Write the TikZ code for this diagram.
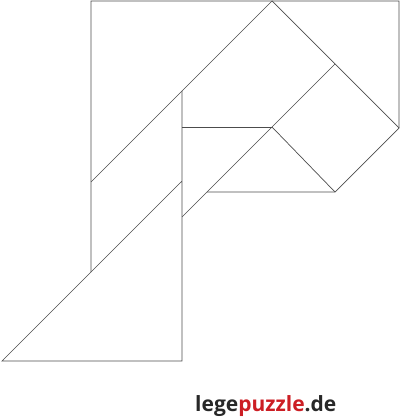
\documentclass[tikz,border=0pt]{standalone}
\usepackage{fontspec}
\setmainfont{Open Sans}
\definecolor{lpred}{RGB}{204,30,36}
\definecolor{lpdark}{RGB}{40,40,40}
\begin{document}
\begin{tikzpicture}[x=1pt,y=-1pt,
  edge/.style={draw=black!70,line width=0.7pt,line join=miter},
  logo/.style={inner sep=0pt,anchor=base west,font=\bfseries\fontsize{21}{25}\selectfont}]
\useasboundingbox (0,0) rectangle (400,419);
\coordinate (P1) at (91,1);
\coordinate (P2) at (272,1);
\coordinate (P3) at (399,1);
\coordinate (P4) at (399,128);
\coordinate (P5) at (335,64);
\coordinate (P6) at (272,127);
\coordinate (P7) at (335,192);
\coordinate (P8) at (207,192);
\coordinate (P9) at (182,217);
\coordinate (P10) at (182,127);
\coordinate (P11) at (182,91);
\coordinate (P12) at (91,182);
\coordinate (P13) at (182,181);
\coordinate (P14) at (91,272);
\coordinate (P15) at (2,361);
\coordinate (P16) at (182,361);
\draw[edge] (P14) -- (P1) -- (P3) -- (P4) -- (P7) -- (P8);
\draw[edge] (P12) -- (P2) -- (P4);
\draw[edge] (P5) -- (P9);
\draw[edge] (P6) -- (P7);
\draw[edge] (P10) -- (P6);
\draw[edge] (P11) -- (P16) -- (P15) -- (P13);
\node[logo] (L) at (195,411) {\textcolor{lpdark}{lege}\textcolor{lpred}{puzzle}\textcolor{lpdark}{.de}};
\end{tikzpicture}
\end{document}
